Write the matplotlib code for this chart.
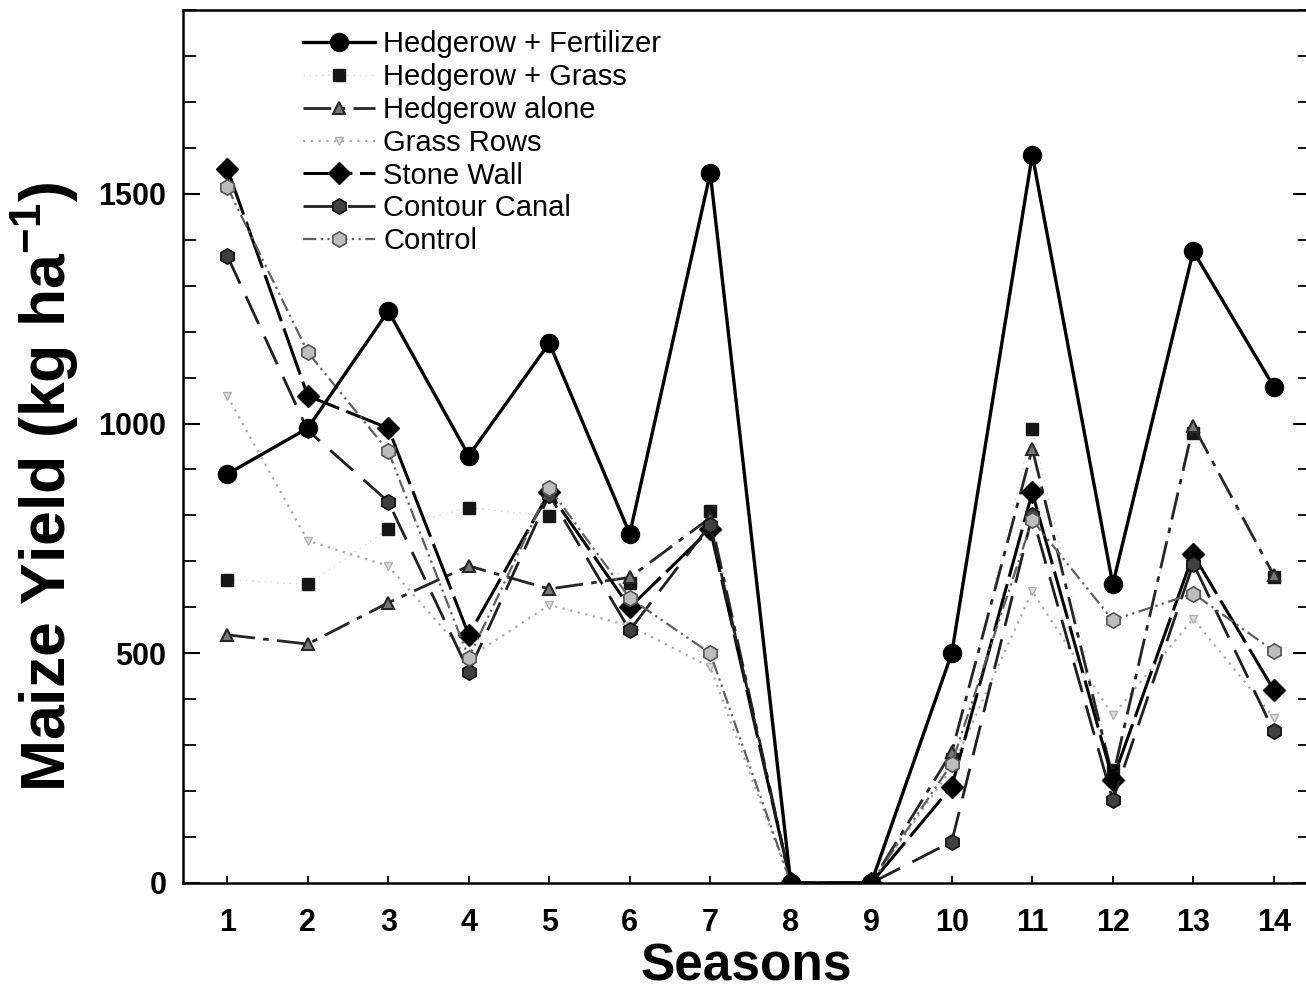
import matplotlib
matplotlib.use("Agg")
import matplotlib.pyplot as plt
from matplotlib.ticker import MultipleLocator

plt.rcParams['font.family'] = ['Liberation Sans', 'DejaVu Sans']
plt.rcParams['mathtext.default'] = 'regular'

seasons = list(range(1, 15))
hedgerow_fert = [890, 990, 1245, 930, 1175, 760, 1545, 0, 0, 500, 1585, 650, 1375, 1080]
hedgerow_grass = [660, 650, 770, 817, 798, 652, 810, 0, 0, 270, 987, 245, 980, 665]
hedgerow_alone = [540, 520, 610, 690, 640, 665, 795, 0, 0, 285, 945, 230, 995, 670]
grass_rows = [1060, 745, 690, 490, 605, 560, 470, 0, 0, 250, 635, 365, 575, 360]
stone_wall = [1555, 1060, 990, 540, 850, 600, 770, 0, 0, 210, 850, 225, 715, 420]
contour_canal = [1365, 985, 830, 460, 845, 550, 780, 0, 0, 90, 800, 180, 695, 330]
control = [1515, 1155, 940, 490, 860, 620, 500, 0, 0, 260, 790, 572, 630, 505]

labels = ['Hedgerow + Fertilizer', 'Hedgerow + Grass', 'Hedgerow alone',
          'Grass Rows', 'Stone Wall', 'Contour Canal', 'Control']

fig = plt.figure(figsize=(13.06, 9.93), dpi=100)
ax = fig.add_axes([183/1306, 110/993, (1310-183)/1306, (883-10)/993])

ax.plot(seasons, hedgerow_fert, color='black', lw=2.4, ls='-',
        marker='o', ms=13, mfc='black', mec='black', label=labels[0], zorder=5)
ax.plot(seasons, hedgerow_grass, color='#d0d0d0', lw=0.9, ls=(0, (1, 4)),
        marker='s', ms=9, mfc='#151515', mec='#151515', label=labels[1], zorder=4)
ax.plot(seasons, hedgerow_alone, color='#262626', lw=2.0, ls=(0, (10, 3, 2, 3)),
        marker='^', ms=9, mfc='#777777', mec='#262626', mew=1.5, label=labels[2], zorder=4)
ax.plot(seasons, grass_rows, color='#a8a8a8', lw=1.6, ls=(0, (1, 2.5)),
        marker='v', ms=6, mfc='#dddddd', mec='#b0b0b0', label=labels[3], zorder=3)
ax.plot(seasons, stone_wall, color='black', lw=2.2, ls=(0, (16, 2.5)),
        marker='D', ms=11, mfc='black', mec='black', label=labels[4], zorder=4)
ax.plot(seasons, contour_canal, color='#202020', lw=2.0, ls=(0, (11, 5)),
        marker='h', ms=11, mfc='#404040', mec='#111111', mew=1.2, label=labels[5], zorder=4)
ax.plot(seasons, control, color='#606060', lw=1.6, ls=(0, (6, 2, 1, 2, 1, 2)),
        marker='h', ms=11, mfc='#bdbdbd', mec='#555555', mew=1.2, label=labels[6], zorder=4)

ax.set_xlim(0.45, 14.45)
ax.set_ylim(0, 1900)
ax.set_xticks(seasons)
ax.yaxis.set_major_locator(MultipleLocator(500))
ax.yaxis.set_minor_locator(MultipleLocator(100))

ax.tick_params(axis='y', which='major', direction='in', length=12, width=1.5,
               labelsize=22, pad=12, right=True)
ax.tick_params(axis='y', which='minor', direction='in', length=9, width=1.3, right=True)
ax.tick_params(axis='x', which='major', direction='in', length=5, width=1.3,
               labelsize=22, pad=18)
for lab in ax.get_xticklabels() + ax.get_yticklabels():
    lab.set_fontweight('bold')
for sp in ax.spines.values():
    sp.set_linewidth(1.8)

ax.set_xlabel('Seasons', fontsize=37, fontweight='bold', labelpad=3)
fig.text(45/1306, 1 - 487/993, 'Maize Yield (kg ha$^{-1}$)', rotation=90,
         fontsize=45, fontweight='bold', ha='center', va='center')

leg = ax.legend(loc='upper left', bbox_to_anchor=(0.0887, 1.0), frameon=False,
                fontsize=21, handlelength=2.45, handletextpad=0.28,
                labelspacing=0.165, numpoints=1, borderpad=0.2, borderaxespad=0.5)

fig.savefig('out.png', dpi=100)
